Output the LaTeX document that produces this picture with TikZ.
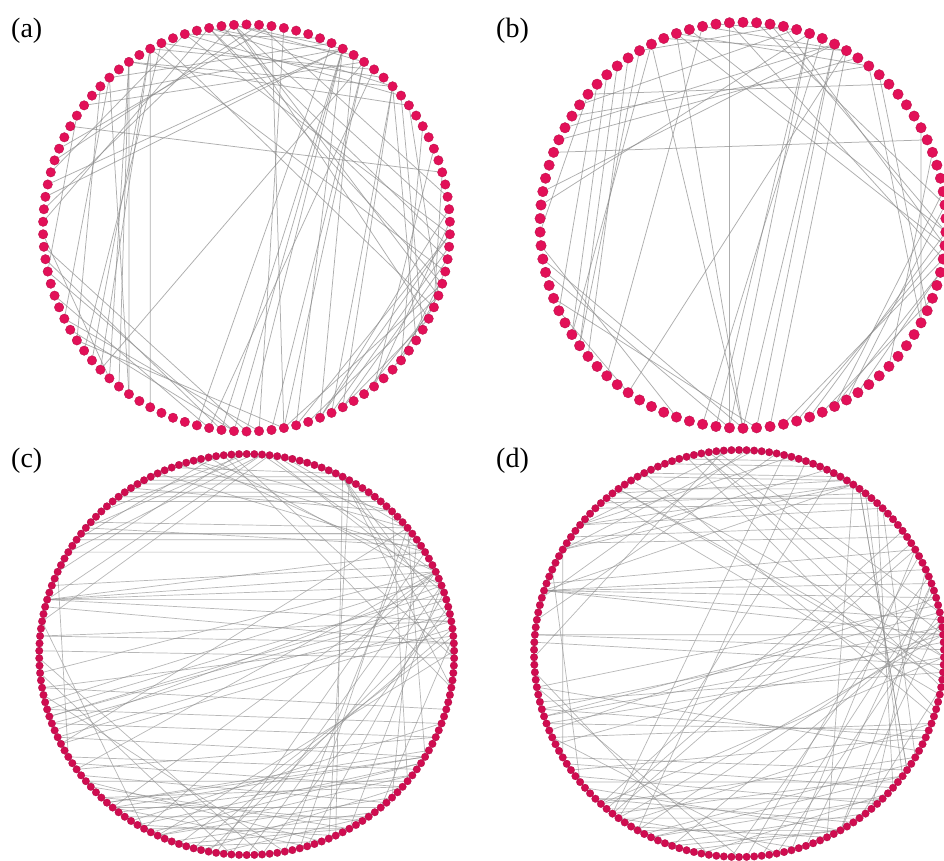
\documentclass[tikz,border=0pt]{standalone}
\usepackage{fontspec}
\setmainfont{Liberation Serif}
\pgfdeclarelayer{background}
\pgfsetlayers{background,main}
\definecolor{nodeA}{RGB}{226,16,88}
\definecolor{nodeC}{RGB}{208,12,80}
\tikzset{
  dotA/.style={circle, fill=nodeA, draw=nodeA!80!black, line width=0.3pt, inner sep=0pt, minimum size=9.5pt},
  dotB/.style={dotA, minimum size=10.5pt},
  dotC/.style={circle, fill=nodeC, draw=nodeC!80!black, line width=0.2pt, inner sep=0pt, minimum size=7.6pt},
  edgeAB/.style={draw=black!45, line width=0.75pt, opacity=0.7},
  edgeCD/.style={draw=black!45, line width=0.7pt, opacity=0.62},
  plabel/.style={font=\fontsize{28}{28}\selectfont, inner sep=0pt, anchor=north west}
}
\newcommand\chord[5]{%
  \pgfmathtruncatemacro\cia{mod(round((90-(#3))/360*#2)+5*#2,#2)}%
  \pgfmathtruncatemacro\cib{mod(round((90-(#4))/360*#2)+5*#2,#2)}%
  \draw[#5] (#1-\cia) -- (#1-\cib);}
\begin{document}
\begin{tikzpicture}[x=1pt,y=-1pt]
\useasboundingbox (0,0) rectangle (944,861);

% ---------- nodes ----------
\foreach \i in {0,...,101}{
  \pgfmathsetmacro\ang{90-\i/102*360}
  \node[dotA] (a-\i) at ({246.5+203.5*cos(\ang)},{228-203.5*sin(\ang)}) {};
}
\foreach \i in {0,...,93}{
  \pgfmathsetmacro\ang{90-\i/94*360}
  \node[dotB] (b-\i) at ({743+203*cos(\ang)},{225.3-203*sin(\ang)}) {};
}
\foreach \i in {0,...,169}{
  \pgfmathsetmacro\ang{90-\i/170*360}
  \node[dotC] (c-\i) at ({246.7+207.5*cos(\ang)},{654.5-200.5*sin(\ang)}) {};
}
\foreach \i in {0,...,169}{
  \pgfmathsetmacro\ang{90-\i/170*360}
  \node[dotC] (d-\i) at ({739+205*cos(\ang)},{653.5-203.5*sin(\ang)}) {};
}

% ---------- labels ----------
\node[plabel] (la) at (11,18) {(a)};
\node[plabel] (lb) at (496,18) {(b)};
\node[plabel] (lc) at (11,448) {(c)};
\node[plabel] (ld) at (496,448) {(d)};

% ---------- edges ----------
\begin{pgfonlayer}{background}
\fill[white] (0,0) rectangle (944,861);
\foreach \p/\q in {95/2, 97/-4, 99/-15, 92/-20, 95/-25, 88/10, 102/-8, 106/0,
  99/45, 95/63, 92/56, 102/59, 106/41, 124/45, 120/52, 142/56, 138/63, 131/66, 127/38, 113/48, 109/70,
  63/266, 63/262, 60/270, 56/277, 56/281, 63/284, 52/259, 45/295, 45/300, 81/274, 66/255, 59/290, 84/281,
  0/284, 0/290, -4/295, -8/300, -15/281, -20/288, -25/300, -22/305, 2/310, -11/320, -18/315, 6/292,
  17/-22, 31/-40, 45/-34, 41/-30, 24/-50, 38/-18,
  149/17, 223/53, 170/62, 166/60, 173/95, 160/88,
  124/227, 120/223, 124/230, 117/220, 131/205, 127/234, 113/216, 135/212,
  191/266, 188/262, 184/270, 198/259, 205/272, 209/266, 213/281,
  177/99, 163/106, 156/84, 234/131, 241/120, 145/191, 180/228, 113/-22, 120/-14}
  {\chord{a}{102}{\p}{\q}{edgeAB}}

\foreach \p/\q in {94/266, 160/24, 108/270, 108/-5, 104/0, 113/58, 110/52, 70/262, 70/266, 68/258,
  62/270, 62/274, 58/278, 50/-30, 47/-26, 78/-5, 82/-2, 86/5, 92/-10, -8/282, -5/285, 0/290, 5/300,
  -12/295, -15/305, -20/292, 10/298, 129/215, 125/220, 132/212, 122/218, 135/205, 175/70, 170/62,
  188/270, 195/266, 200/274, 116/270, 235/58, 148/50, 152/62, 144/74, 156/56, 140/45, 213/118,
  205/236, 30/-30, 120/80, 100/60, 180/140, 185/250, 226/100, 20/-45, 74/96}
  {\chord{b}{94}{\p}{\q}{edgeAB}}

\foreach \p/\q in {120/60, 118/62, 121/58, 128/52, 131/49, 126/55, 144/36, 142/38, 146/34, 140/32,
  138/40, 150/30, 124/45, 112/65, 62/296, 60/293,
  164/16, 164/20, 164/24, 164/10, 164/30, 166/4, 160/26, 175/9, 175/4, 178/0,
  197/16, 199/14, 201/12, 195/18, 203/20, 205/10, 193/22, 207/8, 190/5, 185/24,
  86/164, 86/150, 88/140, 84/170, 90/135, 86/24, 84/18, 82/30, 94/0, 96/-10, 80/40, 92/155, 98/145,
  24/230, 24/240, 24/215,
  220/320, 225/318, 230/310, 235/305, 240/300, 228/330, 215/335, 245/315, 250/300, 210/325,
  218/312, 232/322, 238/296, 242/328, 248/308, 222/300, 236/340, 212/318, 226/304, 244/322,
  254/292, 258/318, 262/306, 230/288, 220/292,
  340/195, 335/200, 345/190, 330/205,
  266/24, 262/30, 270/20, 275/14, 280/36, 284/40, 288/18,
  330/230, 332/228, 328/238, 180/275, 186/265, 192/280,
  8/255, 5/250, 12/260, 2/245, 62/10, 62/0, 62/-10,
  110/40, 105/45, 115/30, 104/24, 100/20,
  155/210, 207/40, 170/240, 45/-40, 40/-30, 35/-45, 300/20, 310/5}
  {\chord{c}{170}{\p}{\q}{edgeCD}}

\foreach \p/\q in {125/55, 130/50, 128/58, 163/56, 150/56, 140/56, 56/295, 54/-35,
  163/10, 163/15, 163/20, 163/5, 163/25, 160/30, 174/6, 174/2, 176/-3,
  195/8, 197/3, 199/12, 201/0, 193/-5, 203/16, 206/6, 190/14,
  100/-2, 100/-10, 98/5, 104/-15, 96/12, 77/232, 62/235, 70/240,
  8/240, 5/235, 10/250, 0/228, 335/195, 338/200, 332/190, 340/205,
  220/320, 225/315, 230/310, 235/305, 240/300, 228/330, 215/335, 245/315, 250/300, 210/325,
  218/312, 232/322, 238/296, 242/328, 248/308, 222/300, 236/340, 212/318, 226/304, 244/322,
  256/300, 260/316, 234/286,
  268/22, 272/28, 276/18, 280/12, 284/30, 230/33, 232/30, 228/38,
  127/-5, 125/-8, 130/-12, 122/-2, 118/-18,
  120/58, 118/60, 135/48, 132/52, 140/45, 145/40, 112/66, 108/70, 148/35,
  52/-38, 48/-42, 55/-35, 45/-30, 88/165, 85/150, 92/140, 80/170, 95/180,
  150/210, 155/220, 185/262, 190/270, 205/280, 20/-60, 25/-50, 300/10, 305/-10, 290/20, 65/150, 75/140}
  {\chord{d}{170}{\p}{\q}{edgeCD}}
\end{pgfonlayer}
\end{tikzpicture}
\end{document}
